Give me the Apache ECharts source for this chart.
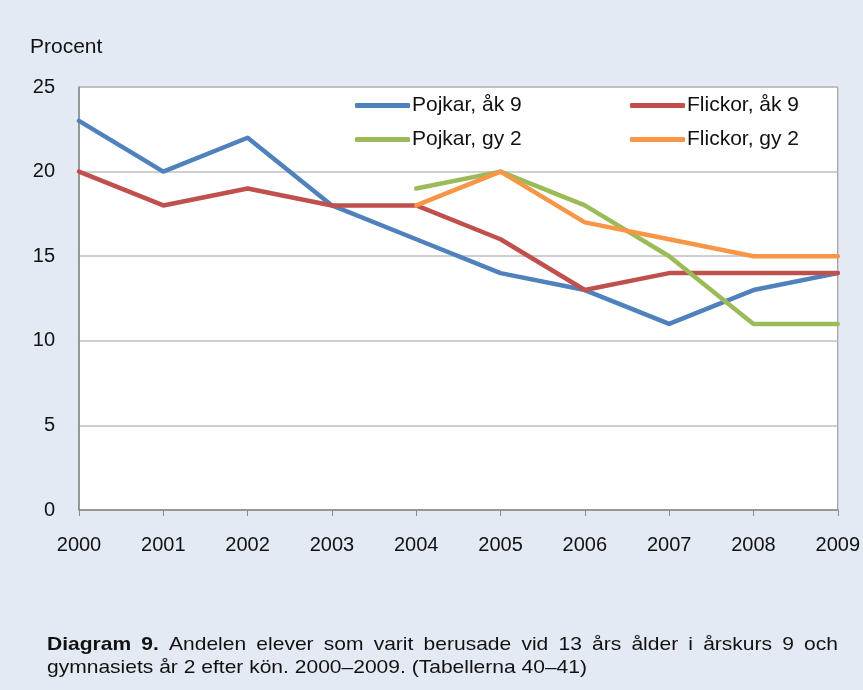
<!DOCTYPE html>
<html>
<head>
<meta charset="utf-8">
<script src="https://cdn.jsdelivr.net/npm/echarts@6/dist/echarts.min.js"></script>
<style>
html,body{margin:0;padding:0;background:#e4eaf4;}
#c{width:863px;height:690px;}
</style>
</head>
<body>
<div id="c"></div>
<script>
const years = ['2000','2001','2002','2003','2004','2005','2006','2007','2008','2009'];
const pojkarAk9 = [23, 20, 22, 18, 16, 14, 13, 11, 13, 14];
const flickorAk9 = [20, 18, 19, 18, 18, 16, 13, 14, 14, 14];
const pojkarGy2 = [null, null, null, null, 19, 20, 18, 15, 11, 11];
const flickorGy2 = [null, null, null, null, 18, 20, 17, 16, 15, 15];
const seriesNames = ['Pojkar, åk 9', 'Flickor, åk 9', 'Pojkar, gy 2', 'Flickor, gy 2'];
const colors = ['#4f81bd', '#c0504d', '#9bbb59', '#f79646'];
const yAxisName = 'Procent';
const captionLine1 = ['Diagram', '9.', 'Andelen', 'elever', 'som', 'varit', 'berusade', 'vid', '13', 'års', 'ålder', 'i', 'årskurs', '9', 'och'];
const captionBoldCount = 2;
const captionLine2 = 'gymnasiets år 2 efter kön. 2000–2009. (Tabellerna 40–41)';

const FONT = '"Liberation Sans", Arial, Helvetica, sans-serif';
const chart = echarts.init(document.getElementById('c'));

const ctx = document.createElement('canvas').getContext('2d');
const capSize = 19;
const capLeft = 47, capRight = 838, line2Right = 587;
ctx.font = capSize + 'px ' + FONT;
const sx = (line2Right - capLeft) / ctx.measureText(captionLine2).width;
const widths = captionLine1.map((w, i) => {
  ctx.font = (i < captionBoldCount ? 'bold ' : '') + capSize + 'px ' + FONT;
  return ctx.measureText(w).width * sx;
});
const total = widths.reduce((a, b) => a + b, 0);
const gap = (capRight - capLeft - total) / (captionLine1.length - 1);
let cx = capLeft;
const captionEls = captionLine1.map((w, i) => {
  const el = {
    type: 'text', x: cx, y: 645, scaleX: sx,
    style: { text: w, fill: '#111', font: (i < captionBoldCount ? 'bold ' : '') + capSize + 'px ' + FONT, textVerticalAlign: 'middle', verticalAlign: 'middle' }
  };
  cx += widths[i] + gap;
  return el;
});
captionEls.push({
  type: 'text', x: capLeft, y: 668, scaleX: sx,
  style: { text: captionLine2, fill: '#111', font: capSize + 'px ' + FONT, textVerticalAlign: 'middle', verticalAlign: 'middle' }
});
captionEls.push({
  type: 'text', x: 30, y: 47,
  style: { text: yAxisName, fill: '#111', font: '21px ' + FONT, textVerticalAlign: 'middle', verticalAlign: 'middle' }
});

const legendPos = [[355, 95], [630, 95], [355, 129], [630, 129]];
const legends = seriesNames.map((n, i) => ({
  data: [n], left: legendPos[i][0], top: legendPos[i][1], padding: 0,
  icon: 'roundRect', itemWidth: 55, itemHeight: 5, itemGap: 0,
  textStyle: { fontFamily: FONT, fontSize: 21, color: '#111', padding: [0, 0, 0, -3] },
  selectedMode: false
}));

const data = [pojkarAk9, flickorAk9, pojkarGy2, flickorGy2];

chart.setOption({
  backgroundColor: '#e4eaf4',
  animation: false,
  grid: { left: 79, right: 25, top: 87, bottom: 180, show: true, backgroundColor: '#fff', borderColor: '#8a8a8a', borderWidth: 1 },
  legend: legends,
  xAxis: {
    type: 'category', data: years, boundaryGap: false,
    axisLine: { lineStyle: { color: '#8a8a8a', width: 1.5 } },
    axisTick: { show: true, length: 6, inside: false, lineStyle: { color: '#8a8a8a' } },
    axisLabel: { fontFamily: FONT, fontSize: 20, color: '#111', margin: 25 },
    splitLine: { show: false }
  },
  yAxis: {
    type: 'value', min: 0, max: 25, interval: 5,
    axisLine: { show: true, lineStyle: { color: '#8a8a8a', width: 1.5 } },
    axisTick: { show: false },
    axisLabel: { fontFamily: FONT, fontSize: 20, color: '#111', margin: 24 },
    splitLine: { lineStyle: { color: '#bfbfbf', width: 1.5 } }
  },
  series: data.map((d, i) => ({
    name: seriesNames[i], type: 'line', data: d,
    symbol: 'none', lineStyle: { width: 4.5, color: colors[i], cap: 'round', join: 'round' },
    itemStyle: { color: colors[i] }
  })),
  graphic: captionEls
});
</script>
</body>
</html>
